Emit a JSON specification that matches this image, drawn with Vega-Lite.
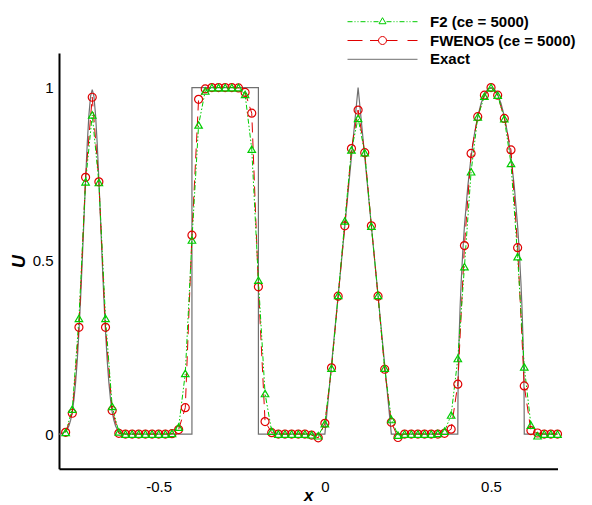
{
  "$schema": "https://vega.github.io/schema/vega-lite/v6.json",
  "width": 498.5,
  "height": 415.8,
  "autosize": {"type": "none"},
  "padding": {"left": 59, "top": 52.9, "right": 34.5, "bottom": 36.3},
  "background": "white",
  "config": {"view": {"stroke": null}, "font": "Liberation Sans"},
  "datasets": {
    "xticks": [
      {"t":-0.7,"major":0},{"t":-0.6,"major":0},{"t":-0.5,"major":1},{"t":-0.4,"major":0},{"t":-0.3,"major":0},
      {"t":-0.2,"major":0},{"t":-0.1,"major":0},{"t":0,"major":1},{"t":0.1,"major":0},{"t":0.2,"major":0},
      {"t":0.3,"major":0},{"t":0.4,"major":0},{"t":0.5,"major":1},{"t":0.6,"major":0},{"t":0.7,"major":0}
    ],
    "yticks": [
      {"t":0,"major":1},{"t":0.1,"major":0},{"t":0.2,"major":0},{"t":0.3,"major":0},{"t":0.4,"major":0},
      {"t":0.5,"major":1},{"t":0.6,"major":0},{"t":0.7,"major":0},{"t":0.8,"major":0},{"t":0.9,"major":0},
      {"t":1,"major":1},{"t":1.1,"major":0}
    ],
    "exact": [
      {"k":0,"x":-0.8,"u":0},{"k":1,"x":-0.79,"u":0.002},{"k":2,"x":-0.78,"u":0.008},{"k":3,"x":-0.775,"u":0.014},
      {"k":4,"x":-0.77,"u":0.024},{"k":5,"x":-0.765,"u":0.04},{"k":6,"x":-0.76,"u":0.064},{"k":7,"x":-0.755,"u":0.1},
      {"k":8,"x":-0.75,"u":0.149},{"k":9,"x":-0.745,"u":0.213},{"k":10,"x":-0.74,"u":0.295},{"k":11,"x":-0.735,"u":0.391},
      {"k":12,"x":-0.73,"u":0.501},{"k":13,"x":-0.725,"u":0.618},{"k":14,"x":-0.72,"u":0.733},{"k":15,"x":-0.715,"u":0.838},
      {"k":16,"x":-0.71,"u":0.921},{"k":17,"x":-0.705,"u":0.975},{"k":18,"x":-0.7,"u":0.994},{"k":19,"x":-0.695,"u":0.975},
      {"k":20,"x":-0.69,"u":0.921},{"k":21,"x":-0.685,"u":0.838},{"k":22,"x":-0.68,"u":0.733},{"k":23,"x":-0.675,"u":0.618},
      {"k":24,"x":-0.67,"u":0.501},{"k":25,"x":-0.665,"u":0.391},{"k":26,"x":-0.66,"u":0.295},{"k":27,"x":-0.655,"u":0.213},
      {"k":28,"x":-0.65,"u":0.149},{"k":29,"x":-0.645,"u":0.1},{"k":30,"x":-0.64,"u":0.064},{"k":31,"x":-0.635,"u":0.04},
      {"k":32,"x":-0.63,"u":0.024},{"k":33,"x":-0.625,"u":0.014},{"k":34,"x":-0.62,"u":0.008},{"k":35,"x":-0.61,"u":0.002},
      {"k":36,"x":-0.6,"u":0},{"k":37,"x":-0.4,"u":0},{"k":38,"x":-0.4,"u":1},{"k":39,"x":-0.2,"u":1},
      {"k":40,"x":-0.2,"u":0},{"k":41,"x":0,"u":0},{"k":42,"x":0.1,"u":1},{"k":43,"x":0.2,"u":0},
      {"k":44,"x":0.4,"u":0},{"k":45,"x":0.4005,"u":0.1},{"k":46,"x":0.401,"u":0.141},{"k":47,"x":0.402,"u":0.199},
      {"k":48,"x":0.404,"u":0.28},{"k":49,"x":0.407,"u":0.368},{"k":50,"x":0.41,"u":0.436},{"k":51,"x":0.415,"u":0.527},
      {"k":52,"x":0.42,"u":0.6},{"k":53,"x":0.43,"u":0.714},{"k":54,"x":0.44,"u":0.8},{"k":55,"x":0.45,"u":0.866},
      {"k":56,"x":0.46,"u":0.917},{"k":57,"x":0.47,"u":0.954},{"k":58,"x":0.48,"u":0.98},{"k":59,"x":0.49,"u":0.995},
      {"k":60,"x":0.5,"u":1},{"k":61,"x":0.51,"u":0.995},{"k":62,"x":0.52,"u":0.98},{"k":63,"x":0.53,"u":0.954},
      {"k":64,"x":0.54,"u":0.917},{"k":65,"x":0.55,"u":0.866},{"k":66,"x":0.56,"u":0.8},{"k":67,"x":0.57,"u":0.714},
      {"k":68,"x":0.58,"u":0.6},{"k":69,"x":0.585,"u":0.527},{"k":70,"x":0.59,"u":0.436},{"k":71,"x":0.593,"u":0.368},
      {"k":72,"x":0.596,"u":0.28},{"k":73,"x":0.598,"u":0.199},{"k":74,"x":0.599,"u":0.141},{"k":75,"x":0.5995,"u":0.1},
      {"k":76,"x":0.6,"u":0},{"k":77,"x":0.7,"u":0}
    ],
    "num": [
      {"x":-0.78,"f2":0.005,"fw":0.005},{"x":-0.76,"f2":0.072,"fw":0.06},{"x":-0.74,"f2":0.334,"fw":0.308},
      {"x":-0.72,"f2":0.728,"fw":0.741},{"x":-0.7,"f2":0.921,"fw":0.972},{"x":-0.68,"f2":0.726,"fw":0.728},
      {"x":-0.66,"f2":0.334,"fw":0.308},{"x":-0.64,"f2":0.08,"fw":0.068},{"x":-0.62,"f2":0.006,"fw":0.002},
      {"x":-0.6,"f2":0,"fw":0},{"x":-0.58,"f2":0,"fw":0},{"x":-0.56,"f2":0,"fw":0},{"x":-0.54,"f2":0,"fw":0},
      {"x":-0.52,"f2":0,"fw":0},{"x":-0.5,"f2":0,"fw":0},{"x":-0.48,"f2":0,"fw":0},{"x":-0.46,"f2":0.002,"fw":0.001},
      {"x":-0.44,"f2":0.02,"fw":0.013},{"x":-0.42,"f2":0.175,"fw":0.076},{"x":-0.4,"f2":0.56,"fw":0.574},
      {"x":-0.38,"f2":0.892,"fw":0.966},{"x":-0.36,"f2":0.99,"fw":0.996},{"x":-0.34,"f2":1,"fw":1},
      {"x":-0.32,"f2":1,"fw":1},{"x":-0.3,"f2":1,"fw":1},{"x":-0.28,"f2":1,"fw":1},{"x":-0.26,"f2":1,"fw":0.999},
      {"x":-0.24,"f2":0.98,"fw":0.986},{"x":-0.22,"f2":0.822,"fw":0.926},{"x":-0.2,"f2":0.444,"fw":0.425},
      {"x":-0.18,"f2":0.117,"fw":0.036},{"x":-0.16,"f2":0.008,"fw":0.004},{"x":-0.14,"f2":0,"fw":0},
      {"x":-0.12,"f2":0,"fw":0},{"x":-0.1,"f2":0,"fw":0},{"x":-0.08,"f2":0,"fw":0},{"x":-0.06,"f2":0,"fw":0},
      {"x":-0.04,"f2":-0.002,"fw":-0.003},{"x":-0.02,"f2":-0.005,"fw":-0.011},{"x":0,"f2":0.03,"fw":0.031},
      {"x":0.02,"f2":0.19,"fw":0.191},{"x":0.04,"f2":0.4,"fw":0.398},{"x":0.06,"f2":0.615,"fw":0.601},
      {"x":0.08,"f2":0.82,"fw":0.824},{"x":0.1,"f2":0.911,"fw":0.935},{"x":0.12,"f2":0.812,"fw":0.812},
      {"x":0.14,"f2":0.6,"fw":0.601},{"x":0.16,"f2":0.4,"fw":0.398},{"x":0.18,"f2":0.19,"fw":0.187},
      {"x":0.2,"f2":0.042,"fw":0.034},{"x":0.22,"f2":-0.003,"fw":-0.01},{"x":0.24,"f2":0,"fw":0},
      {"x":0.26,"f2":0,"fw":0},{"x":0.28,"f2":0,"fw":0},{"x":0.3,"f2":0,"fw":0},{"x":0.32,"f2":0,"fw":0},
      {"x":0.34,"f2":0.002,"fw":0},{"x":0.36,"f2":0.008,"fw":0.002},{"x":0.38,"f2":0.055,"fw":0.014},
      {"x":0.4,"f2":0.218,"fw":0.144},{"x":0.42,"f2":0.483,"fw":0.544},{"x":0.44,"f2":0.757,"fw":0.81},
      {"x":0.46,"f2":0.915,"fw":0.916},{"x":0.48,"f2":0.975,"fw":0.978},{"x":0.5,"f2":1,"fw":1},
      {"x":0.52,"f2":0.978,"fw":0.978},{"x":0.54,"f2":0.91,"fw":0.911},{"x":0.56,"f2":0.781,"fw":0.82},
      {"x":0.58,"f2":0.512,"fw":0.538},{"x":0.6,"f2":0.194,"fw":0.139},{"x":0.62,"f2":0.026,"fw":0.01},
      {"x":0.64,"f2":-0.005,"fw":0.003},{"x":0.66,"f2":0,"fw":0},{"x":0.68,"f2":0,"fw":0},{"x":0.7,"f2":0,"fw":0}
    ]
  },
  "encoding": {
    "x": {
      "field": "x", "type": "quantitative",
      "scale": {"domain": [-0.8, 0.7], "nice": false, "zero": false},
      "axis": {
        "orient": "bottom", "values": [-0.5, 0, 0.5],
        "labelExpr": "datum.value == -0.5 ? '-0.5' : datum.value == 0 ? '0' : '0.5'",
        "ticks": false, "domainColor": "black", "domainWidth": 2, "grid": false,
        "labelFont": "Liberation Sans", "labelFontSize": 15, "labelColor": "black",
        "labelPadding": 10.7, "labelFlush": false, "labelOverlap": false,
        "title": "x", "titleFont": "Liberation Sans", "titleFontSize": 17, "titleFontStyle": "italic",
        "titleFontWeight": "bold", "titleColor": "black", "titleY": 31.5, "titleBaseline": "alphabetic"
      }
    },
    "y": {
      "field": "u", "type": "quantitative",
      "scale": {"domain": [-0.1, 1.1], "nice": false, "zero": false},
      "axis": {
        "orient": "left", "values": [0, 0.5, 1],
        "labelExpr": "datum.value == 0 ? '0' : datum.value == 1 ? '1' : '0.5'",
        "ticks": false, "domainColor": "black", "domainWidth": 2, "grid": false,
        "labelFont": "Liberation Sans", "labelFontSize": 15, "labelColor": "black",
        "labelPadding": 6, "labelFlush": false, "labelOverlap": false,
        "title": "U", "titleFont": "Liberation Sans", "titleFontSize": 18, "titleFontStyle": "italic",
        "titleFontWeight": "bold", "titleColor": "black", "titleX": -34.5, "titleY": 208,
        "titleBaseline": "alphabetic", "titleAlign": "center", "titleAngle": 270
      }
    },
    "color": {
      "field": "m", "type": "nominal",
      "scale": {"domain": ["f2", "fw", "exact"], "range": ["#00cc00", "#e00000", "#707070"]},
      "legend": {
        "title": null, "orient": "none", "legendX": 288, "legendY": -39.2, "padding": 0,
        "symbolSize": 4900, "clipHeight": 16, "rowPadding": 2.8, "labelOffset": 12,
        "labelFont": "Liberation Sans", "labelFontSize": 15, "labelFontWeight": "bold", "labelColor": "black",
        "labelLimit": 300, "symbolStrokeWidth": 1,
        "labelExpr": "datum.value == 'f2' ? 'F2 (ce = 5000)' : datum.value == 'fw' ? 'FWENO5 (ce = 5000)' : 'Exact'",
        "encode": {
          "symbols": {
            "update": {
              "shape": {"signal": "datum.value == 'f2' ? 'M-1,0H-0.857M-0.8,0H-0.771M-0.714,0H-0.686M-0.629,0H-0.486M-0.429,0H-0.4M-0.343,0H-0.314M-0.257,0H-0.114M0.114,0H0.257M0.314,0H0.343M0.4,0H0.429M0.486,0H0.629M0.686,0H0.714M0.771,0H0.8M0.857,0H1M0,-0.115L-0.1,0.058L0.1,0.058Z' : datum.value == 'fw' ? 'M-1,0H-0.571M-0.357,0H-0.114M0.114,0H0.429M0.714,0H1M0.114,0A0.114,0.114 0 1 1 -0.114,0A0.114,0.114 0 1 1 0.114,0' : 'M-1,0H1'"},
              "fill": {"value": "transparent"},
              "stroke": {"scale": "color", "field": "value"},
              "strokeWidth": {"value": 1},
              "strokeDash": {"value": []},
              "opacity": {"value": 1}
            }
          }
        }
      }
    }
  },
  "layer": [
    {
      "data": {"name": "exact"},
      "mark": {"type": "line", "strokeWidth": 1.2},
      "encoding": {"order": {"field": "k", "type": "quantitative"}, "color": {"datum": "exact"}}
    },
    {
      "data": {"name": "num"},
      "transform": [{"fold": ["f2", "fw"], "as": ["m", "u"]}],
      "layer": [
        {"transform": [{"filter": "datum.m == 'fw'"}], "mark": {"type": "line", "strokeWidth": 1, "strokeDash": [10, 6]}},
        {"transform": [{"filter": "datum.m == 'f2'"}], "mark": {"type": "line", "strokeWidth": 1, "strokeDash": [5, 2, 1.5, 2, 1.5, 2]}},
        {"transform": [{"filter": "datum.m == 'fw'"}], "mark": {"type": "point", "shape": "circle", "filled": false, "size": 64, "strokeWidth": 1.2, "opacity": 1}},
        {"transform": [{"filter": "datum.m == 'f2'"}], "mark": {"type": "point", "shape": "triangle-up", "filled": false, "size": 56, "strokeWidth": 1.2, "opacity": 1}}
      ]
    },
    {
      "data": {"name": "xticks"},
      "layer": [
        {"transform": [{"filter": "datum.major == 1"}], "mark": {"type": "tick", "orient": "vertical", "size": 10, "thickness": 2, "yOffset": -5, "opacity": 1, "color": "black"}},
        {"transform": [{"filter": "datum.major == 0"}], "mark": {"type": "tick", "orient": "vertical", "size": 6, "thickness": 1, "yOffset": -3, "opacity": 1, "color": "black"}}
      ],
      "encoding": {
        "x": {"field": "t", "type": "quantitative"},
        "y": {"datum": -0.1},
        "color": {"value": "black"}
      }
    },
    {
      "data": {"name": "yticks"},
      "layer": [
        {"transform": [{"filter": "datum.major == 1"}], "mark": {"type": "tick", "orient": "horizontal", "size": 10, "thickness": 2, "xOffset": 5, "opacity": 1, "color": "black"}},
        {"transform": [{"filter": "datum.major == 0"}], "mark": {"type": "tick", "orient": "horizontal", "size": 5, "thickness": 1, "xOffset": 2.5, "opacity": 1, "color": "black"}}
      ],
      "encoding": {
        "y": {"field": "t", "type": "quantitative"},
        "x": {"datum": -0.8},
        "color": {"value": "black"}
      }
    }
  ]
}
